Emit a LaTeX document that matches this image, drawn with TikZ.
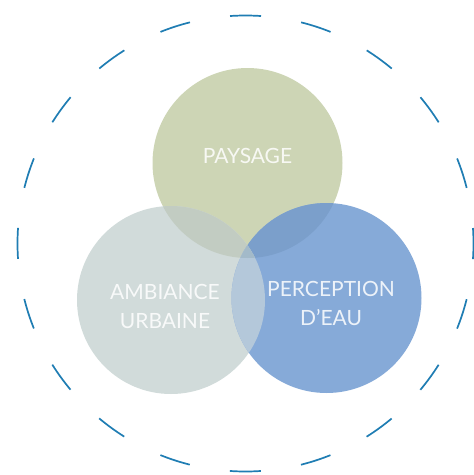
\documentclass[tikz,border=0pt]{standalone}
\usepackage{fontspec}
\setmainfont{Lato}
\definecolor{pay}{HTML}{CDD5B5}
\definecolor{urb}{HTML}{D1DBDA}
\definecolor{per}{HTML}{86AAD8}
\definecolor{payurb}{HTML}{C2CCC2}
\definecolor{payper}{HTML}{7B9FCB}
\definecolor{urbper}{HTML}{B4C8DA}
\definecolor{allthree}{HTML}{A3BAC9}
\definecolor{dashblue}{HTML}{1F7DB3}
\begin{document}
\begin{tikzpicture}[x=1pt,y=-1pt,
  disc/.style={circle,inner sep=0pt,minimum size=#1},
  lbl/.style={text=white,text opacity=0.85,font=\fontsize{21}{28.5}\selectfont,align=center,inner sep=0pt}]
\useasboundingbox (0,0) rectangle (474,475);
\node[disc=456pt,draw=dashblue,line width=1.7pt,dash pattern=on 31pt off 40.63pt,dash phase=15.5pt] (outer) at (245.5,243.5) {};
\node[disc=190pt,fill=pay] (cP) at (247.5,163) {};
\node[disc=188pt,fill=urb] (cU) at (171,300) {};
\node[disc=190pt,fill=per] (cR) at (326.5,298) {};
\begin{scope}
  \clip (cP.center) circle (95pt);
  \fill[payurb] (cU.center) circle (94pt);
  \fill[payper] (cR.center) circle (95pt);
  \clip (cU.center) circle (94pt);
  \fill[allthree] (cR.center) circle (95pt);
\end{scope}
\begin{scope}
  \clip (cU.center) circle (94pt);
  \clip (cR.center) circle (95pt);
  \fill[urbper] (cR.center) circle (95pt);
  \clip (cP.center) circle (95pt);
  \fill[allthree] (cR.center) circle (95pt);
\end{scope}
\node[lbl,anchor=base] (tP) at (247.5,163) {PAYSAGE};
\node[lbl,anchor=base] (tU) at (165,328) {AMBIANCE\\URBAINE};
\node[lbl,anchor=base] (tR) at (331,325) {PERCEPTION\\D’EAU};
\end{tikzpicture}
\end{document}
